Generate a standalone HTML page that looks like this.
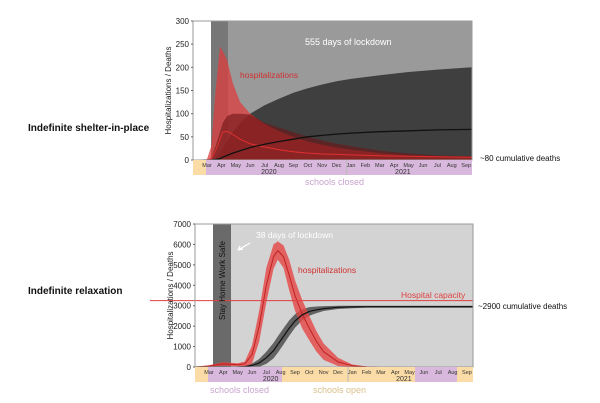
<!DOCTYPE html>
<html><head><meta charset="utf-8"><style>
body{margin:0;background:#fff;}
svg{display:block;font-family:"Liberation Sans",sans-serif;}
</style></head><body>
<svg id="s" width="600" height="403" viewBox="0 0 600 403">
<text x="28" y="131" font-size="10" font-weight="bold" fill="#111">Indefinite shelter-in-place</text>
<text x="28" y="294" font-size="10" font-weight="bold" fill="#111">Indefinite relaxation</text>
</svg>
<script>
// month index: 0 = Mar 2020
const months=["Mar","Apr","May","Jun","Jul","Aug","Sep","Oct","Nov","Dec","Jan","Feb","Mar","Apr","May","Jun","Jul","Aug","Sep"];
const topTicks=[0,50,100,150,200,250,300];
const botTicks=[0,1000,2000,3000,4000,5000,6000,7000];
// top chart series (x in months, y in counts)
const topT=[-0.3,0,0.3,0.6,0.9,1.1,1.4,1.8,2.3,3,4,5,6,7,8,9,10,12,14,16,18.4];
const topHospUpper=[0,2,30,150,245,235,215,165,125,100,78,62,50,40,33,27,22,15,10,8,7];
const topHospBand=[0,0,5,30,60,80,95,100,100,98,80,70,60,50,42,35,30,20,14,10,8];
const topHospMed=[0,0,3,20,45,60,62,55,45,35,28,22,18,15,13,12,11,9,8,7,6];
const topDeathUpper=[0,0,0,5,15,25,40,60,80,100,118,132,145,155,163,170,175,183,190,195,200];
const topDeathMed=[0,0,0,1,3,6,10,15,20,27,34,40,45,50,53,56,58,61,63,65,66];
// bottom chart series
const botT=[-1,0,1,2,2.5,3,3.5,4,4.5,4.8,5.2,5.6,6,6.5,7,7.5,8,9,10,11,12,14,16,18.4];
const botHospMed=[0,50,150,110,150,600,2000,4000,5400,5700,5400,4500,3500,2600,1900,1250,750,250,60,10,0,0,0,0];
const botHospW=[0,40,90,70,120,450,750,850,600,450,550,750,750,700,600,500,400,200,60,10,0,0,0,0];
const botDeathMed=[0,0,0,5,20,80,200,450,800,1100,1500,1900,2250,2550,2720,2800,2860,2920,2940,2950,2950,2950,2950,2950];
const botDeathW=[0,0,0,5,30,90,190,300,380,400,400,380,330,270,210,160,120,80,60,50,50,50,50,50];
const capacity=3250;

const S=document.getElementById('s');const NS="http://www.w3.org/2000/svg";
function el(t,a,n,txt){const e=document.createElementNS(NS,t);for(const k in a)e.setAttribute(k,a[k]);


if(txt!==undefined)e.textContent=txt;S.appendChild(e);return e;}
function mkX(x0,m0,k){return m=>x0+(m-m0)*k;}
function mkY(y0,y1,max){return v=>y0-(v/max)*(y0-y1);}
function area(X,Y,t,lo,hi,fill,n){let d="";t.forEach((m,i)=>d+=(i?"L":"M")+X(m).toFixed(1)+","+Y(hi[i]).toFixed(1));
for(let i=t.length-1;i>=0;i--)d+="L"+X(t[i]).toFixed(1)+","+Y(lo[i]).toFixed(1);el('path',{d:d+"Z",fill:fill},n);}
function line(X,Y,t,v,stroke,w,n){let d="";t.forEach((m,i)=>d+=(i?"L":"M")+X(m).toFixed(1)+","+Y(v[i]).toFixed(1));el('path',{d,fill:"none",stroke,'stroke-width':w},n);}
function panel(o){
 const X=mkX(o.mx,0,o.k),Y=mkY(o.yb,o.yt,o.max);
 el('rect',{x:o.x0,y:o.yt,width:o.x1-o.x0,height:o.yb-o.yt,fill:"#fff"},o.p+'-plot-bg');
 el('rect',{x:o.l0,y:o.yt,width:o.x1-o.l0,height:o.yb-o.yt,fill:o.bg},o.p+'-lockdown-region');
 el('rect',{x:o.l0,y:o.yt,width:o.l1-o.l0,height:o.yb-o.yt,fill:o.dk},o.p+'-stay-home-band');
 o.draw(X,Y);
 el('rect',{x:o.x0,y:o.yt,width:o.x1-o.x0,height:o.yb-o.yt,fill:"none",stroke:"#999",'stroke-width':1},o.p+'-plot-frame');
 o.bands.forEach((b,i)=>el('rect',{x:b[0],y:o.yb,width:b[1]-b[0],height:15,fill:b[2]},o.p+'-school-band-'+i));
 el('line',{x1:X(9.7),x2:X(9.7),y1:o.yb,y2:o.yb+15,stroke:"#bbb"},o.p+'-year-divider');
 months.forEach((m,i)=>el('text',{x:X(i),y:o.yb+7,'font-size':5.5,'text-anchor':'middle',fill:"#333"},o.p+'-month-label',m));
 el('text',{x:X(4.3),y:o.yb+14,'font-size':7,'text-anchor':'middle',fill:"#333"},o.p+'-year-2020','2020');
 el('text',{x:X(13.6),y:o.yb+14,'font-size':7,'text-anchor':'middle',fill:"#333"},o.p+'-year-2021','2021');
 o.ticks.forEach(v=>{el('text',{x:o.x0-4,y:Y(v)+3,'font-size':8,'text-anchor':'end',fill:"#222"},o.p+'-y-tick',v);
  el('line',{x1:o.x0-2,x2:o.x0,y1:Y(v),y2:Y(v),stroke:"#666"},o.p+'-y-tickmark');});
 el('text',{x:0,y:0,'font-size':8,'text-anchor':'middle',fill:"#222",transform:`translate(${o.x0-22},${(o.yt+o.yb)/2}) rotate(-90)`},o.p+'-y-axis-title','Hospitalizations / Deaths');
}
panel({p:'top',x0:193,x1:472,mx:207,k:14.4,yt:21,yb:160,max:300,l0:211,l1:228,bg:"#9a9a9a",dk:"#777",ticks:topTicks,
 bands:[[193,206,"#fbdca6"],[206,472,"#d8b8dc"]],
 draw:(X,Y)=>{const z=topT.map(()=>0);
  area(X,Y,topT,z,topDeathUpper,"#3f3f3f",'top-deaths-band');
  area(X,Y,topT,z,topHospUpper,"rgba(220,60,60,0.75)",'top-hosp-upper');
  area(X,Y,topT,z,topHospBand,"rgba(110,20,20,0.6)",'top-hosp-band');
  line(X,Y,topT,topHospMed,"#e03030",1,'top-hosp-median');
  line(X,Y,topT,topDeathMed,"#111",1.3,'top-deaths-median');}});
el('text',{x:305,y:45,'font-size':9,fill:"#fff"},'lockdown-label-555','555 days of lockdown');
el('text',{x:240,y:78,'font-size':8.5,fill:"#d03030"},'top-hosp-label','hospitalizations');
el('text',{x:480,y:161,'font-size':8,fill:"#111"},'top-deaths-annotation','~80 cumulative deaths');
el('text',{x:305,y:185,'font-size':9,fill:"#c9a3cf"},'top-schools-closed','schools closed');
panel({p:'bot',x0:195,x1:473,mx:209,k:14.33,yt:224,yb:367,max:7000,l0:213,l1:231,bg:"#d3d3d3",dk:"#6a6a6a",ticks:botTicks,
 bands:[[195,208,"#fbdca6"],[208,282,"#d8b8dc"],[282,415,"#fbdca6"],[415,457,"#d8b8dc"],[457,473,"#fbdca6"]],
 draw:(X,Y)=>{
  area(X,Y,botT,botDeathMed.map((v,i)=>Math.max(0,v-botDeathW[i])),botDeathMed.map((v,i)=>v+botDeathW[i]),"rgba(60,60,60,0.75)",'bot-deaths-band');
  area(X,Y,botT,botHospMed.map((v,i)=>Math.max(0,v-botHospW[i])),botHospMed.map((v,i)=>v+botHospW[i]),"rgba(230,70,70,0.8)",'bot-hosp-band');
  line(X,Y,botT,botHospMed,"#c02020",1,'bot-hosp-median');
  line(X,Y,botT,botDeathMed,"#111",1.2,'bot-deaths-median');
  el('line',{x1:150,x2:473,y1:Y(capacity),y2:Y(capacity),stroke:"#e04040",'stroke-width':1},'hospital-capacity-line');}});
el('text',{x:0,y:0,'font-size':8,fill:"#111",transform:"translate(225,320) rotate(-90)"},'stay-home-label','Stay Home Work Safe');
el('text',{x:256,y:238,'font-size':8.5,fill:"#fff"},'lockdown-label-38','38 days of lockdown');
el('path',{d:"M250,243 L238,250 M238,250 L243,249 M238,250 L240,246",stroke:"#fff",'stroke-width':1.3,fill:"none"},'lockdown-arrow');
el('text',{x:298,y:273,'font-size':8.5,fill:"#d03030"},'bot-hosp-label','hospitalizations');
el('text',{x:401,y:298,'font-size':8.5,fill:"#e04040"},'capacity-label','Hospital capacity');
el('text',{x:478,y:309,'font-size':8,fill:"#111"},'bot-deaths-annotation','~2900 cumulative deaths');
el('text',{x:210,y:393,'font-size':9,fill:"#c9a3cf"},'bot-schools-closed','schools closed');
el('text',{x:313,y:393,'font-size':9,fill:"#d9c08a"},'bot-schools-open','schools open');
</script>
</body></html>
